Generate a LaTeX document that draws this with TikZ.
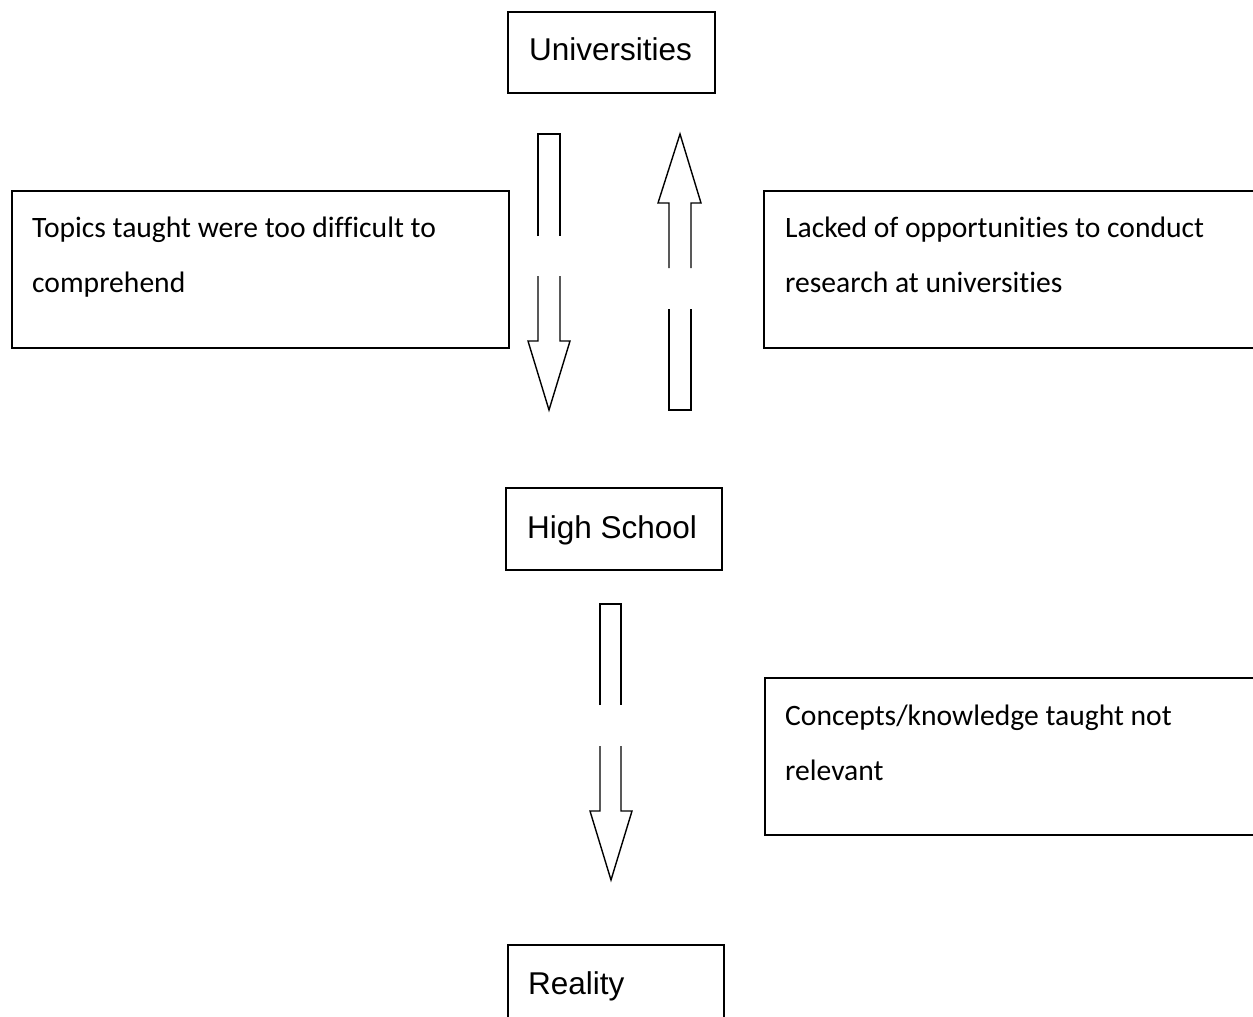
\documentclass[tikz,border=0pt]{standalone}
\usepackage{fontspec}
\setmainfont[Ligatures=CommonOff]{Carlito}
\newfontfamily\arialfont{Liberation Sans}
\begin{document}
\begin{tikzpicture}[x=1pt,y=-1pt,
  boxst/.style={draw, line width=1.6pt, rectangle, inner sep=0pt, anchor=north west},
  lbl/.style={inner sep=0pt, anchor=base west, font=\arialfont\fontsize{31.5}{36}\selectfont},
  note/.style={inner sep=0pt, anchor=base west, font=\fontsize{29.6}{34}\selectfont},
  blockarrow/.style={draw, line width=1.4pt, line join=miter}]
\useasboundingbox[fill=white] (0,0) rectangle (1253,1017);

% main boxes
\node[boxst, minimum width=207pt, minimum height=81pt] (uni) at (507,11) {};
\node[lbl] (unit) at (529,60) {Universities};
\node[boxst, minimum width=216pt, minimum height=82pt] (hs) at (505,487) {};
\node[lbl] (hst) at (527,538) {High School};
\node[boxst, minimum width=216pt, minimum height=100pt] (real) at (507,944) {};
\node[lbl] (realt) at (528,994) {Reality};

% note boxes
\node[boxst, minimum width=497pt, minimum height=157pt] (n1) at (11,190) {};
\node[note] (n1a) at (32,237) {Topics taught were too difficult to};
\node[note] (n1b) at (32,292) {comprehend};
\node[boxst, minimum width=510pt, minimum height=157pt] (n2) at (763,190) {};
\node[note] (n2a) at (785,237) {Lacked of opportunities to conduct};
\node[note] (n2b) at (785,292) {research at universities};
\node[boxst, minimum width=510pt, minimum height=157pt] (n3) at (764,677) {};
\node[note] (n3a) at (785,725) {Concepts/knowledge taught not};
\node[note] (n3b) at (785,780) {relevant};

% down arrow 1 (Universities -> High School)
\draw[blockarrow] (538,236) -- (538,134) -- (560,134) -- (560,236);
\draw[blockarrow] (538,276) -- (538,341) -- (528,341) -- (549,410) -- (570,341) -- (560,341) -- (560,276);
% up arrow (High School -> Universities)
\draw[blockarrow] (669,268) -- (669,203) -- (658,203) -- (680,134) -- (701,203) -- (691,203) -- (691,268);
\draw[blockarrow] (669,309) -- (669,410) -- (691,410) -- (691,309);
% down arrow 2 (High School -> Reality)
\draw[blockarrow] (600,705) -- (600,604) -- (621,604) -- (621,705);
\draw[blockarrow] (600,746) -- (600,811) -- (590,811) -- (611,880) -- (632,811) -- (621,811) -- (621,746);
\end{tikzpicture}
\end{document}
